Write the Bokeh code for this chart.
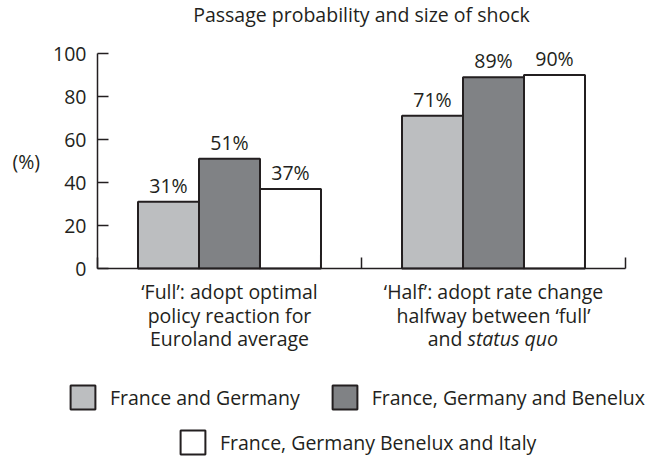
from bokeh.plotting import figure
from bokeh.models import (ColumnDataSource, LabelSet, Label, Legend, LegendItem,
                          FixedTicker, Range1d)
from bokeh.core.properties import value
from bokeh.embed import file_html
from bokeh.resources import INLINE

# ---------------- data ----------------
chart_title = "Passage probability and size of shock"
groups = ["Full", "Half"]
group_lines = [
    ["\u2018Full\u2019: adopt optimal", "policy reaction for", "Euroland average"],
    ["\u2018Half\u2019: adopt rate change", "halfway between \u2018full\u2019"],
]
last_line_plain = "and"
last_line_italic = "status quo"
series = ["France and Germany", "France, Germany and Benelux",
          "France, Germany Benelux and Italy"]
france_germany = [31, 71]
france_germany_benelux = [51, 89]
france_germany_benelux_italy = [37, 90]
y_ticks = [0, 20, 40, 60, 80, 100]
y_label = "(%)"

# ---------------- style / layout ----------------
FONT = "Open Sans"
FS = "19.5px"
INK = "#231f20"
colors = ["#bcbec0", "#808285", "#ffffff"]

W, H = 657, 458
X0_PX, Y0_PX = 97, 268          # canvas position of data (0, 0)
PX_X, PX_Y = 264.0, 2.15        # pixels per data unit

x_range = Range1d(-X0_PX / PX_X, (W - X0_PX) / PX_X)
y_range = Range1d(-(H - Y0_PX) / PX_Y, Y0_PX / PX_Y)

p = figure(width=W, height=H, output_backend="svg", toolbar_location=None,
           x_range=x_range, y_range=y_range,
           min_border_left=0, min_border_right=0,
           min_border_top=0, min_border_bottom=0)
p.outline_line_color = None
p.grid.visible = False
p.title.visible = False
p.background_fill_color = "white"
p.border_fill_color = "white"

# y axis
ya = p.yaxis[0]
ya.fixed_location = 0
ya.bounds = (y_ticks[0], y_ticks[-1])
ya.ticker = FixedTicker(ticks=y_ticks)
ya.axis_label = y_label
ya.axis_label_orientation = "horizontal"
ya.axis_label_standoff = 10
ya.axis_label_text_font = FONT
ya.axis_label_text_font_size = FS
ya.axis_label_text_font_style = "normal"
ya.axis_label_text_color = INK
ya.major_label_text_font = FONT
ya.major_label_text_font_size = FS
ya.major_label_text_color = INK
ya.major_label_standoff = 11
ya.major_tick_in = 11
ya.major_tick_out = 0
ya.minor_tick_in = 0
ya.minor_tick_out = 0
ya.axis_line_color = INK
ya.axis_line_width = 1.5
ya.major_tick_line_color = INK
ya.major_tick_line_width = 1.5

# x axis (group boundaries as unlabeled ticks)
xa = p.xaxis[0]
xa.fixed_location = 0
xa.bounds = (0, len(groups))
xa.ticker = FixedTicker(ticks=[], minor_ticks=list(range(len(groups) + 1)))
xa.major_tick_in = 0
xa.major_tick_out = 0
xa.minor_tick_in = 11
xa.minor_tick_out = 0
xa.minor_tick_line_color = INK
xa.minor_tick_line_width = 1.5
xa.axis_line_color = INK
xa.axis_line_width = 1.5

# bars
centers = [i + 0.5 for i in range(len(groups))]
bar_w = 0.231
offsets = [-bar_w, 0.0, bar_w]
renderers = []
for vals, off, col in zip([france_germany, france_germany_benelux,
                           france_germany_benelux_italy], offsets, colors):
    src = ColumnDataSource(dict(x=[c + off for c in centers], top=vals,
                                label=[f"{v}%" for v in vals]))
    r = p.vbar(x="x", top="top", width=bar_w, bottom=0, source=src,
               fill_color=col, line_color=INK, line_width=2)
    renderers.append(r)
    p.add_layout(LabelSet(x="x", y="top", text="label", source=src,
                          text_align="center", text_baseline="alphabetic",
                          y_offset=9, text_font=value(FONT),
                          text_font_size=value(FS), text_color=INK))

# title
p.add_layout(Label(x=len(groups) / 2, y=(Y0_PX - 14) / PX_Y, text=chart_title,
                   text_align="center", text_baseline="alphabetic",
                   text_font=FONT, text_font_size=FS, text_color=INK))

# category labels (below the axis)
line_offsets_px = [23, 46.5, 70]
for c, lines in zip(centers, group_lines):
    for txt, dy in zip(lines, line_offsets_px):
        p.add_layout(Label(x=c, y=-dy / PX_Y, text=txt,
                           text_align="center", text_baseline="alphabetic",
                           text_font=FONT, text_font_size=FS, text_color=INK))
dy = line_offsets_px[2]
p.add_layout(Label(x=centers[1], y=-dy / PX_Y, x_offset=-31,
                   text=last_line_plain, text_align="right",
                   text_baseline="alphabetic", text_font=FONT,
                   text_font_size=FS, text_color=INK))
p.add_layout(Label(x=centers[1], y=-dy / PX_Y, x_offset=-26,
                   text=last_line_italic, text_align="left",
                   text_baseline="alphabetic", text_font=FONT,
                   text_font_style="italic", text_font_size=FS,
                   text_color=INK))

# legends
def make_legend(items, loc):
    return Legend(items=items, location=loc, orientation="horizontal",
                  glyph_width=31, glyph_height=30, label_standoff=12,
                  spacing=29, padding=0, margin=0, border_line_color=None,
                  background_fill_alpha=0, label_text_font=FONT,
                  label_text_font_size=FS, label_text_color=INK,
                  label_height=30)

leg1 = make_legend([LegendItem(label=series[0], renderers=[renderers[0]]),
                    LegendItem(label=series[1], renderers=[renderers[1]])],
                   (67, 46))
leg2 = make_legend([LegendItem(label=series[2], renderers=[renderers[2]])],
                   (177, 1))
p.add_layout(leg1)
p.add_layout(leg2)

open("out.html", "w").write(file_html(p, INLINE))
